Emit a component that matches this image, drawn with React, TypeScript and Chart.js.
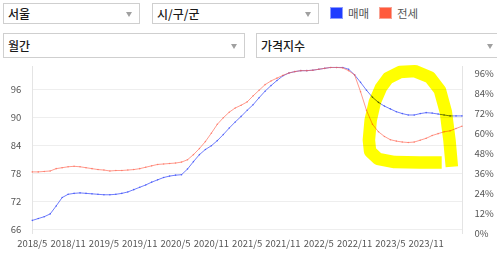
import React, { useEffect, useRef } from "react";
import { Chart, registerables } from "chart.js";

Chart.register(...registerables);

// ---- data ----
const months: string[] = [];
for (let y = 2018, m = 5; months.length < 73; ) {
  months.push(`${y}/${m}`);
  m++;
  if (m > 12) { m = 1; y++; }
}

const tickLabels = ["2018/5", "2018/11", "2019/5", "2019/11", "2020/5", "2020/11", "2021/5", "2021/11", "2022/5", "2022/11", "2023/5", "2023/11"];

const saleIndex = [
  67.9, 68.3, 68.7, 69.3, 71.0, 72.8, 73.5, 73.7, 73.8, 73.7, 73.6, 73.5,
  73.4, 73.4, 73.5, 73.7, 74.0, 74.5, 75.0, 75.5, 76.1, 76.6, 77.1, 77.4,
  77.6, 77.7, 78.9, 80.5, 82.0, 83.1, 83.9, 85.0, 86.3, 87.7, 89.0, 90.2,
  91.5, 92.7, 94.2, 95.6, 96.8, 97.9, 98.9, 99.5, 99.8, 100.0, 100.0, 100.1,
  100.3, 100.5, 100.7, 100.7, 100.7, 100.3, 99.1, 97.5, 95.8, 94.3, 93.2, 92.4,
  91.8, 91.2, 90.8, 90.5, 90.5, 90.8, 91.0, 90.9, 90.7, 90.5, 90.3, 90.3,
  90.3,
];

const jeonseIndex = [
  78.3, 78.3, 78.4, 78.5, 79.0, 79.2, 79.4, 79.5, 79.4, 79.2, 79.0, 78.8,
  78.7, 78.5, 78.6, 78.6, 78.7, 78.8, 79.0, 79.3, 79.6, 79.9, 80.0, 80.1,
  80.2, 80.4, 80.9, 82.0, 83.3, 84.8, 86.6, 88.5, 89.9, 91.1, 92.0, 92.6,
  93.3, 94.6, 95.8, 97.0, 97.8, 98.4, 99.0, 99.5, 99.8, 100.0, 100.0, 100.1,
  100.3, 100.5, 100.7, 100.7, 100.6, 100.0, 99.1, 95.5, 91.5, 88.5, 86.9, 85.9,
  85.2, 84.9, 84.7, 84.6, 84.7, 85.1, 85.5, 86.1, 86.5, 86.9, 87.1, 87.6,
  88.1,
];

const leftTicks = [66, 72, 78, 84, 90, 96];
const rightTicks = [0, 12, 24, 36, 48, 60, 72, 84, 96];

// highlighter annotation path, in (month index, left-axis value)
const markIdx = [70.3, 69.9, 69.3, 68.3, 66.6, 64.1, 61.6, 59.6, 58.4, 57.4, 56.7, 56.4, 56.6, 57.9, 60.7, 64.9, 68.6];
const markVal = [79.4, 85.1, 91.1, 95.8, 98.6, 99.9, 99.7, 98.4, 96.3, 93.3, 89.4, 85.1, 82.7, 81.1, 80.4, 80.3, 80.3];

const TICK_FONT = { family: "'Noto Sans CJK KR', 'Noto Sans', sans-serif", size: 9.5 };

const highlighter = {
  id: "highlighter",
  afterDatasetsDraw(chart: any) {
    const { ctx, scales } = chart;
    const xs = scales.x;
    const ys = scales.y;
    ctx.save();
    ctx.globalCompositeOperation = "multiply";
    ctx.strokeStyle = "rgb(255,255,0)";
    ctx.lineWidth = 12.5;
    ctx.lineJoin = "round";
    ctx.lineCap = "butt";
    ctx.beginPath();
    markIdx.forEach((ix, k) => {
      const px = xs.getPixelForValue(ix);
      const py = ys.getPixelForValue(markVal[k]);
      if (k === 0) ctx.moveTo(px, py);
      else ctx.lineTo(px, py);
    });
    ctx.stroke();
    ctx.restore();
  },
};

function Select({ left, top, width, height, text }: any) {
  return (
    <div
      style={{
        position: "absolute",
        left,
        top,
        width,
        height,
        boxSizing: "border-box",
        border: "1px solid #cfcfcf",
        background: "#fff",
        fontFamily: "'Noto Sans CJK KR', sans-serif",
        fontSize: 12,
        fontWeight: 500,
        color: "#1a1a1a",
      }}
    >
      <span style={{ position: "absolute", left: 4, top: "50%", transform: "translateY(-50%)", lineHeight: "14px" }}>{text}</span>
      <span
        style={{
          position: "absolute",
          right: 7,
          top: "50%",
          marginTop: -2,
          width: 0,
          height: 0,
          borderLeft: "3.5px solid transparent",
          borderRight: "3.5px solid transparent",
          borderTop: "5px solid #a0a0a0",
        }}
      />
    </div>
  );
}

function LegendItem({ left, fill, edge, text }: any) {
  return (
    <div style={{ position: "absolute", left, top: 6, height: 14, display: "flex", alignItems: "center" }}>
      <div style={{ width: 13, height: 12, boxSizing: "border-box", border: `1px solid ${edge}`, background: fill }} />
      <span
        style={{
          marginLeft: 5,
          fontFamily: "'Noto Sans CJK KR', sans-serif",
          fontSize: 11.5,
          color: "#555",
          lineHeight: "14px",
        }}
      >
        {text}
      </span>
    </div>
  );
}

export default function App() {
  const ref = useRef<HTMLCanvasElement>(null);

  useEffect(() => {
    if (!ref.current) return;
    const chart = new Chart(ref.current, {
      type: "line",
      data: {
        labels: months,
        datasets: [
          {
            label: "매매",
            data: saleIndex,
            borderColor: "rgba(50,70,250,0.7)",
            backgroundColor: "rgba(50,70,250,0.7)",
            borderWidth: 1,
            pointRadius: 0.8,
            pointBorderWidth: 0,
            tension: 0,
            yAxisID: "y",
            order: 1,
          },
          {
            label: "전세",
            data: jeonseIndex,
            borderColor: "rgba(255,100,80,0.65)",
            backgroundColor: "rgba(255,100,80,0.65)",
            borderWidth: 1,
            pointRadius: 0.8,
            pointBorderWidth: 0,
            tension: 0,
            yAxisID: "y",
            order: 0,
          },
        ],
      },
      options: {
        responsive: false,
        animation: false,
        events: [],
        layout: { padding: { top: 6.7, left: 0, right: 0, bottom: 0 } },
        plugins: { legend: { display: false }, tooltip: { enabled: false } },
        scales: {
          x: {
            grid: { display: false, drawTicks: false },
            border: { display: false },
            ticks: {
              autoSkip: false,
              maxRotation: 0,
              minRotation: 0,
              padding: 4,
              color: "#555",
              font: TICK_FONT,
              callback: (_v: any, i: number) => (tickLabels.includes(months[i]) ? months[i] : ""),
            },
            afterFit: (s: any) => { s.height = 26.7; s.paddingLeft = 0; s.paddingRight = 0; },
          },
          y: {
            position: "left",
            min: 65.14,
            max: 100.85,
            afterBuildTicks: (s: any) => { s.ticks = leftTicks.map((v) => ({ value: v })); },
            grid: { color: "#eeeeee", drawTicks: false, lineWidth: 1 },
            border: { display: true, color: "#e4e4e4" },
            ticks: { padding: 11, color: "#555", font: TICK_FONT },
            afterFit: (s: any) => { s.width = 32.3; s.paddingTop = 0; s.paddingBottom = 0; },
          },
          y1: {
            position: "right",
            min: 0,
            max: 100,
            afterBuildTicks: (s: any) => { s.ticks = rightTicks.map((v) => ({ value: v })); },
            grid: { display: false, drawTicks: false },
            border: { display: true, color: "#e4e4e4" },
            ticks: { padding: 12.5, color: "#555", font: TICK_FONT, callback: (v: any) => `${v}%` },
            afterFit: (s: any) => { s.width = 35; s.paddingTop = 0; s.paddingBottom = 0; },
          },
        },
      },
      plugins: [highlighter],
    } as any);
    return () => chart.destroy();
  }, []);

  return (
    <div style={{ position: "absolute", left: 0, top: 0, width: 497, height: 260, background: "#fff", overflow: "hidden" }}>
      <Select left={3} top={3} width={137} height={21} text="서울" />
      <Select left={152} top={3} width={167} height={21} text="시/구/군" />
      <LegendItem left={330} fill="#1f3cff" edge="#8d9bff" text="매매" />
      <LegendItem left={379} fill="#ff5a3c" edge="#f8a394" text="전세" />
      <Select left={3} top={33} width={242} height={25} text="월간" />
      <Select left={256} top={33} width={245} height={25} text="가격지수" />
      <canvas ref={ref} width={497} height={200} style={{ position: "absolute", left: 0, top: 60, width: 497, height: 200 }} />
    </div>
  );
}
